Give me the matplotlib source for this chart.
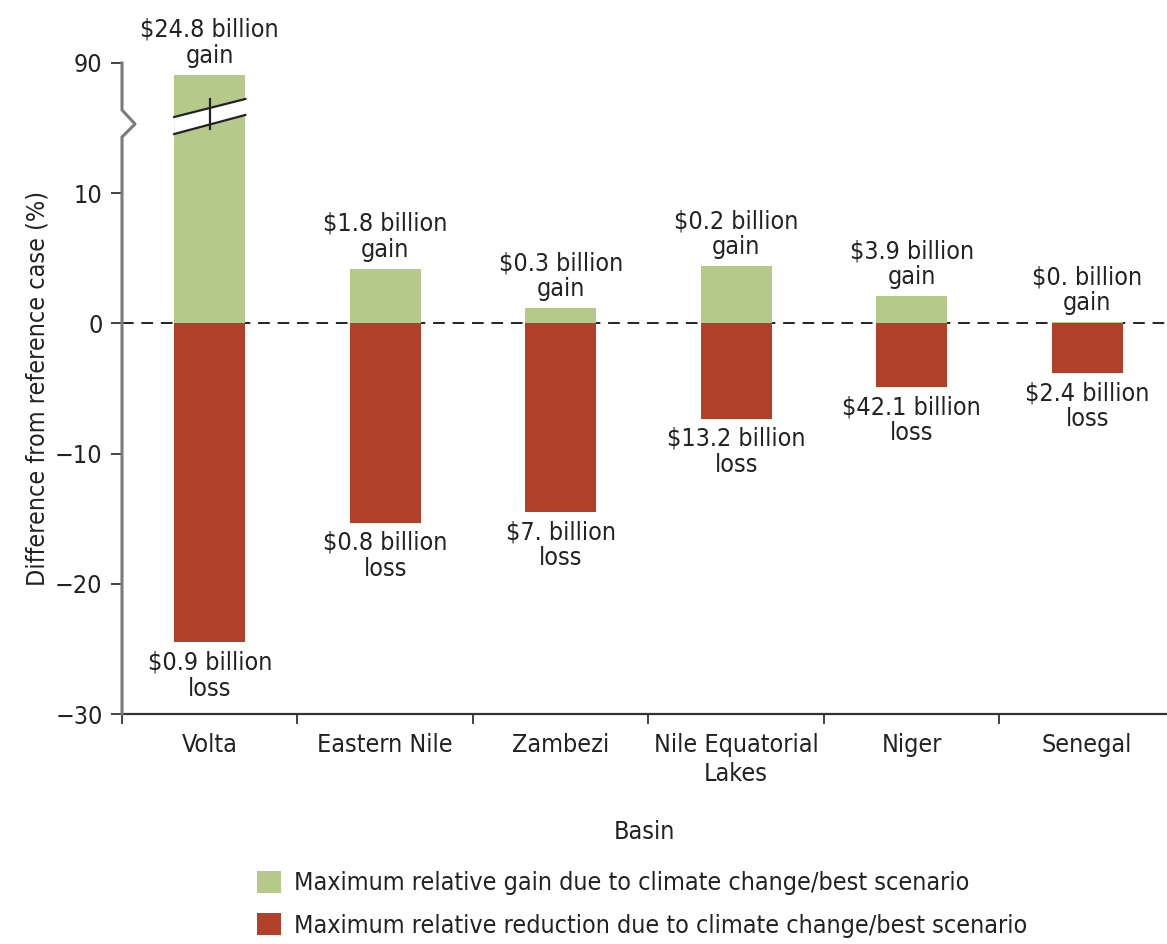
import numpy as np
import matplotlib
matplotlib.use("Agg")
import matplotlib.pyplot as plt
from matplotlib.patches import Patch, Polygon
from matplotlib.lines import Line2D
from matplotlib import font_manager as fm

cond = [f for f in fm.fontManager.ttflist
        if f.stretch in ('condensed', 'semi-condensed', 'extra-condensed')
        or 'Condensed' in f.name or 'Narrow' in f.name]
fam = cond[0].name if cond else None

plt.rcParams['font.family'] = [fam, 'DejaVu Sans'] if fam else ['DejaVu Sans']
if fam and 'DejaVu' in fam:
    plt.rcParams['font.stretch'] = 'condensed'

basins = ["Volta", "Eastern Nile", "Zambezi", "Nile Equatorial\nLakes", "Niger", "Senegal"]
gain = [89.1, 4.2, 1.2, 4.4, 2.1, 0.1]
loss = [-24.5, -15.3, -14.5, -7.3, -4.9, -3.8]
gain_labels = ["$24.8 billion\ngain", "$1.8 billion\ngain", "$0.3 billion\ngain",
               "$0.2 billion\ngain", "$3.9 billion\ngain", "$0. billion\ngain"]
loss_labels = ["$0.9 billion\nloss", "$0.8 billion\nloss", "$7. billion\nloss",
               "$13.2 billion\nloss", "$42.1 billion\nloss", "$2.4 billion\nloss"]
yticks = [-30, -20, -10, 0, 10, 90]

green = "#b5c98a"
red = "#b1402a"
FS = 18
TXT = "#222222"

# broken axis: the range 15..85 is squeezed out
knots_d = np.array([-1000.0, 15.0, 85.0, 1000.0])
knots_s = np.array([-1000.0, 15.0, 15.01, 930.01])
def fwd(v):
    return np.interp(v, knots_d, knots_s)
def inv(s):
    return np.interp(s, knots_s, knots_d)

fig = plt.figure(figsize=(11.67, 9.44), dpi=100)
ax = fig.add_axes([122/1167, 1 - 714/944, (1167-122)/1167, (714-63)/944])
ax.set_yscale('function', functions=(fwd, inv))

x = np.arange(len(basins))
w = 0.405
ax.bar(x, gain, width=w, color=green, zorder=2)
ax.bar(x, loss, width=w, color=red, zorder=2)
ax.axhline(0, color=TXT, lw=1.4, ls=(0, (6, 4)), zorder=1)

ax.set_xlim(-0.5, 5.455)
ax.set_ylim(-30, 90)
ax.set_yticks(yticks)
ax.set_yticklabels(["\u221230", "\u221220", "\u221210", "0", "10", "90"], color=TXT)
ax.set_xticks(x)
ax.set_xticklabels(basins, fontsize=FS, linespacing=1.25, color=TXT)
ax.set_xticks(np.arange(-0.5, 5.5, 1.0), minor=True)
ax.tick_params(axis='x', which='major', length=0, pad=14)
ax.tick_params(axis='x', which='minor', length=7, width=1.3, color="#333333", direction='out')
ax.tick_params(axis='y', length=8, width=1.3, color="#333333", labelsize=FS, pad=6)

for s in ['top', 'right', 'left']:
    ax.spines[s].set_visible(False)
ax.spines['bottom'].set_color("#333333")
ax.spines['bottom'].set_linewidth(1.6)

axh = 714 - 63
def fy(ypx):
    return (714 - ypx) / axh
spx = [0, 0, 0.0125, 0, 0]
spy = [0, fy(137), fy(124), fy(110), 1]
ax.add_line(Line2D(spx, spy, transform=ax.transAxes, color="#7a7a7a", lw=2.2,
                   clip_on=False, zorder=3))

tr = ax.get_xaxis_transform()
x0, x1 = x[0] - w/2, x[0] + w/2
gap = Polygon([[x0, fy(117)], [x1, fy(99)], [x1, fy(115)], [x0, fy(134)]],
              closed=True, transform=tr, facecolor="white", edgecolor="none", zorder=3)
ax.add_patch(gap)
ax.add_line(Line2D([x0, x1], [fy(117), fy(99)], transform=tr, color=TXT, lw=1.6, zorder=4))
ax.add_line(Line2D([x0, x1], [fy(134), fy(115)], transform=tr, color=TXT, lw=1.6, zorder=4))
ax.add_line(Line2D([x[0], x[0]], [fy(99), fy(129)], transform=tr, color=TXT, lw=1.6, zorder=4))

for xi, g, l, gl, ll in zip(x, gain, loss, gain_labels, loss_labels):
    ax.annotate(gl, (xi, g), xytext=(0, 5), textcoords='offset points',
                ha='center', va='bottom', fontsize=FS, linespacing=1.1, color=TXT)
    ax.annotate(ll, (xi, l), xytext=(0, -6), textcoords='offset points',
                ha='center', va='top', fontsize=FS, linespacing=1.1, color=TXT)

ax.set_xlabel("Basin", fontsize=FS, labelpad=24, color=TXT)
ax.set_ylabel("Difference from reference case (%)", fontsize=FS, labelpad=4, color=TXT)

handles = [Patch(facecolor=green, edgecolor='none'), Patch(facecolor=red, edgecolor='none')]
labels = ["Maximum relative gain due to climate change/best scenario",
          "Maximum relative reduction due to climate change/best scenario"]
fig.legend(handles, labels, loc='upper left', bbox_to_anchor=(257/1167, 1 - 871/944),
           frameon=False, fontsize=FS, handlelength=0.95, handleheight=0.95,
           handletextpad=0.55, labelspacing=0.72, borderpad=0, borderaxespad=0,
           labelcolor=TXT)

fig.savefig("out.png", dpi=100)
